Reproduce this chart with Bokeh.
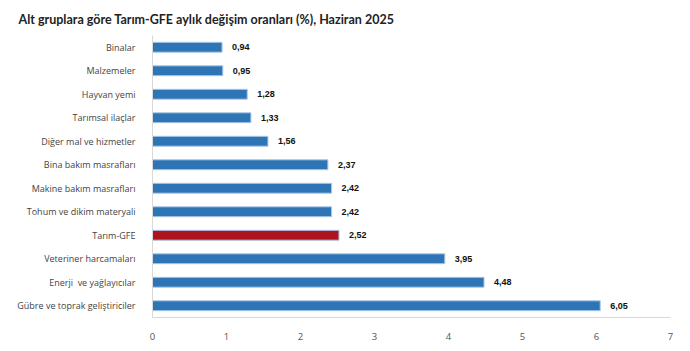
from bokeh.plotting import figure
from bokeh.models import ColumnDataSource, Range1d, FixedTicker, Title
from bokeh.embed import file_html
from bokeh.resources import INLINE
from bokeh.core.properties import value

categories = ["Binalar", "Malzemeler", "Hayvan yemi", "Tarımsal ilaçlar",
              "Diğer mal ve hizmetler", "Bina bakım masrafları",
              "Makine bakım masrafları", "Tohum ve dikim materyali",
              "Tarım-GFE", "Veteriner harcamaları", "Enerji\u00a0 ve yağlayıcılar",
              "Gübre ve toprak geliştiriciler"]
values = [0.94, 0.95, 1.28, 1.33, 1.56, 2.37, 2.42, 2.42, 2.52, 3.95, 4.48, 6.05]
x_ticks = [0, 1, 2, 3, 4, 5, 6, 7]
title_text = "Alt gruplara göre Tarım-GFE aylık değişim oranları (%), Haziran 2025"

BLUE = "#2e75b6"
RED = "#ae141c"
colors = [RED if c == "Tarım-GFE" else BLUE for c in categories]
labels = [f"{v:.2f}".replace(".", ",") for v in values]

src = ColumnDataSource(dict(cat=categories, val=values, color=colors, lab=labels))

p = figure(width=690, height=351, y_range=list(reversed(categories)),
           x_range=Range1d(0, 7), output_backend="svg", toolbar_location=None,
           min_border_left=152, min_border_right=20, min_border_top=35,
           min_border_bottom=34)

p.title = Title(text=title_text, text_font="Lato", text_font_size="12.5px",
                text_font_style="bold", text_color="#222222",
                offset=-134, standoff=14, vertical_align="top")

p.hbar(y="cat", right="val", left=0, height=0.42, source=src,
       fill_color="color", line_color="#a9c7e8", line_width=1)

p.text(x="val", y="cat", text="lab", source=src, x_offset=10,
       text_baseline="middle", text_align="left",
       text_font=value("Liberation Sans"), text_font_size="9px",
       text_font_style="bold", text_color="#111111")

p.xgrid.visible = False
p.ygrid.visible = False
p.outline_line_color = None

p.xaxis.ticker = FixedTicker(ticks=x_ticks)
p.xaxis.axis_line_color = "#d9d9d9"
p.xaxis.major_tick_line_color = None
p.xaxis.minor_tick_line_color = None
p.xaxis.major_label_text_font = "Open Sans"
p.xaxis.major_label_text_font_size = "9.5px"
p.xaxis.major_label_text_color = "#555555"
p.xaxis.major_label_standoff = 9

p.yaxis.axis_line_color = "#d9d9d9"
p.yaxis.major_tick_line_color = None
p.yaxis.minor_tick_line_color = None
p.yaxis.major_label_text_font = "Open Sans"
p.yaxis.major_label_text_font_size = "9px"
p.yaxis.major_label_text_color = "#444444"
p.yaxis.major_label_standoff = 11

p.background_fill_color = "white"
p.border_fill_color = "white"

open("out.html", "w").write(file_html(p, INLINE))
